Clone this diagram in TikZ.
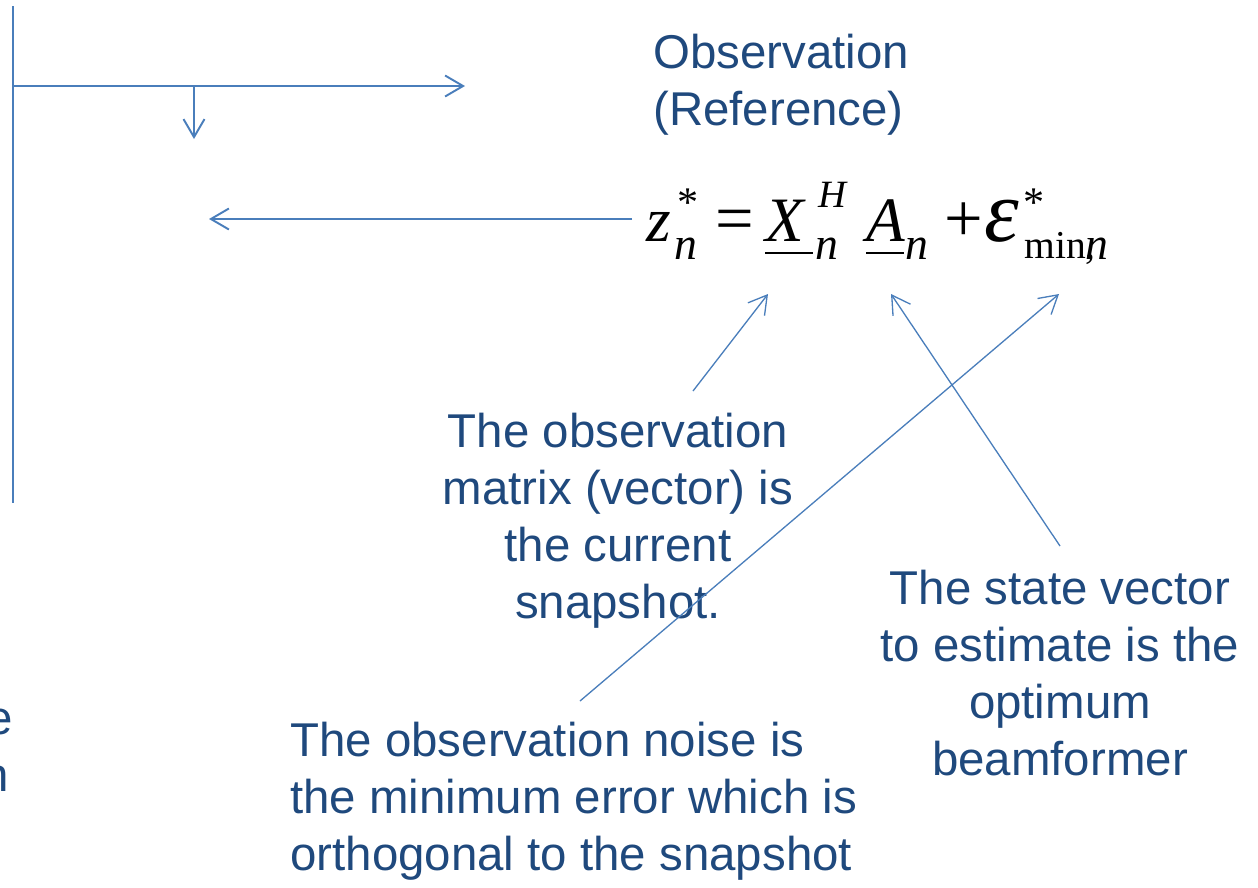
\documentclass[tikz,border=0pt]{standalone}
\usepackage{fontspec}
\newfontfamily\arialf{Liberation Sans}
\newfontfamily\timesf{Liberation Serif}
\usetikzlibrary{arrows.meta}
\definecolor{txtblue}{HTML}{1F497D}
\definecolor{lineblue}{HTML}{4A7EBB}
\tikzset{
 conn/.style={draw=lineblue, line width=1.1pt},
 arr/.style={conn, -{Straight Barb[length=0.36cm,width=0.42cm]}},
 thinarr/.style={draw=lineblue, line width=0.75pt, -{Straight Barb[length=0.36cm,width=0.42cm]}},
 lbl/.style={text=txtblue, font=\arialf\fontsize{27}{32.4}\selectfont, inner sep=0pt},
 mpart/.style={inner sep=0pt, anchor=base west},
 mbig/.style={mpart, font=\timesf\fontsize{39}{42}\selectfont},
 mbigit/.style={mpart, font=\timesf\itshape\fontsize{36}{40}\selectfont},
 meps/.style={mpart, font=\timesf\itshape\fontsize{50}{54}\selectfont},
 msubit/.style={mpart, font=\timesf\itshape\fontsize{26}{30}\selectfont},
 msubrm/.style={mpart, font=\timesf\fontsize{22.5}{26}\selectfont},
 msup/.style={mpart, font=\timesf\fontsize{24}{28}\selectfont},
 msupit/.style={mpart, font=\timesf\itshape\fontsize{22}{26}\selectfont},
 uline/.style={draw=black, line width=1.5pt},
}
\begin{document}
\begin{tikzpicture}[x=0.02cm,y=-0.02cm]
\useasboundingbox (0,0) rectangle (1258,887);
% coordinates
\coordinate (vtop) at (13,6);
\coordinate (vbot) at (13,503);
\coordinate (hstart) at (13,86);
\coordinate (hend) at (465,86);
\coordinate (dstart) at (194,86);
\coordinate (dend) at (194,139);
\coordinate (lstart) at (632,219);
\coordinate (lend) at (209,219);
\coordinate (tipX) at (768,294);
\coordinate (tipA) at (891,294);
\coordinate (tipE) at (1059,294);
\coordinate (srcM) at (693,391);
\coordinate (srcS) at (1060,546);
\coordinate (srcN) at (580,701);
\coordinate (ulXa) at (765,253);
\coordinate (ulXb) at (813,253);
\coordinate (ulAa) at (866,253);
\coordinate (ulAb) at (904,253);
% texts
\node[lbl, anchor=west, align=left] (obs) at (653,85) {Observation\\(Reference)};
% equation  z_n^* = X_n^H A_n + eps^*_{min,n}
\node[mbigit] (eqz) at (646,241) {z};
\node[msubit] (eqzn) at (674,259) {n};
\node[msup] (eqzs) at (677,216) {*};
\node[mbig] (eqeq) at (715,241) {=};
\node[mbigit] (eqX) at (765,241) {X};
\node[msubit] (eqXn) at (815,259) {n};
\node[msupit] (eqXH) at (818,207) {H};
\node[mbigit] (eqA) at (866,241) {A};
\node[msubit] (eqAn) at (905,259) {n};
\node[mbig] (eqplus) at (944,241) {+};
\node[meps] (eqeps) at (984,241) {ε};
\node[msup] (eqepss) at (1023,216) {*};
\node[msubrm] (eqmin) at (1024,258) {min,};
\node[msubit] (eqminn) at (1085,259) {n};
\draw[uline] (ulXa) -- (ulXb);
\draw[uline] (ulAa) -- (ulAb);
\node[lbl, align=center] (matrix) at (618,521) {The observation\\matrix (vector) is\\the current\\snapshot.};
\node[lbl, align=center] (state) at (1060,673) {The state vector\\to estimate is the\\optimum\\beamformer};
\node[lbl, align=left, anchor=west] (noise) at (290,801) {The observation noise is\\the minimum error which is\\orthogonal to the snapshot};
\node[lbl, anchor=east] (cute) at (13,722) {e};
\node[lbl, anchor=east] (cutn) at (9,779) {n};
% connectors
\draw[conn] (vtop) -- (vbot);
\draw[arr] (hstart) -- (hend);
\draw[arr] (dstart) -- (dend);
\draw[arr] (lstart) -- (lend);
\draw[thinarr] (srcM) -- (tipX);
\draw[thinarr] (srcS) -- (tipA);
\draw[thinarr] (srcN) -- (tipE);
\end{tikzpicture}
\end{document}
